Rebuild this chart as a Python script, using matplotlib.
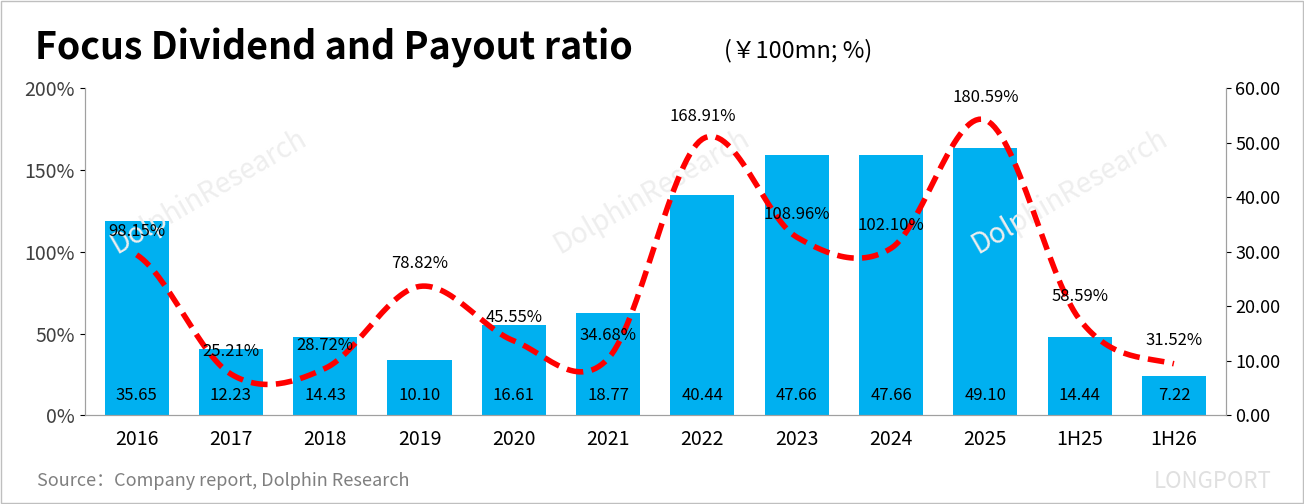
import numpy as np
import matplotlib
matplotlib.use("Agg")
import matplotlib.pyplot as plt

plt.rcParams['font.family'] = ['Microsoft YaHei', 'Noto Sans CJK SC', 'DejaVu Sans']

years = ["2016", "2017", "2018", "2019", "2020", "2021", "2022", "2023", "2024", "2025", "1H25", "1H26"]
dividend = [35.65, 12.23, 14.43, 10.10, 16.61, 18.77, 40.44, 47.66, 47.66, 49.10, 14.44, 7.22]
payout = [98.15, 25.21, 28.72, 78.82, 45.55, 34.68, 168.91, 108.96, 102.10, 180.59, 58.59, 31.52]

BAR_COLOR = "#00B0F0"
LINE_COLOR = "#FF0000"


def _smooth(y, n=30):
    # catmull-rom through the points (drawing only)
    p = np.array(y, dtype=float)
    p = np.concatenate([[p[0]], p, [p[-1]]])
    xs, ys = [], []
    for i in range(1, len(p) - 2):
        t = np.linspace(0, 1, n, endpoint=False)
        p0, p1, p2, p3 = p[i - 1], p[i], p[i + 1], p[i + 2]
        v = 0.5 * (2 * p1 + (-p0 + p2) * t + (2 * p0 - 5 * p1 + 4 * p2 - p3) * t ** 2
                   + (-p0 + 3 * p1 - 3 * p2 + p3) * t ** 3)
        xs.append(i - 1 + t)
        ys.append(v)
    xs.append([len(y) - 1])
    ys.append([y[-1]])
    return np.concatenate(xs), np.concatenate(ys)


fig = plt.figure(figsize=(13.04, 5.04), dpi=100)
ax = fig.add_axes([0.065, 0.176, 0.875, 0.649])
ax2 = ax.twinx()

x = np.arange(len(years))
ax2.bar(x, dividend, width=0.68, color=BAR_COLOR, zorder=1)
for xi, v in zip(x, dividend):
    ax2.text(xi, 3.7, f"{v:.2f}", ha="center", va="center", fontsize=12, color="black")
ax2.set_ylim(0, 60)
ax2.set_yticks(np.arange(0, 61, 10))
ax2.set_yticklabels([f"{v:.2f}" for v in np.arange(0, 61, 10)], fontsize=13)

ax.set_zorder(ax2.get_zorder() + 1)
ax.patch.set_visible(False)
sx, sy = _smooth(payout)
ax.plot(sx, sy, color=LINE_COLOR, lw=4, ls=(0, (3, 1.5)), zorder=3)
for xi, v in zip(x, payout):
    ax.text(xi, v + 14, f"{v:.2f}%", ha="center", va="center", fontsize=12, color="black")
ax.set_ylim(0, 200)
ax.set_xlim(-0.55, len(years) - 0.45)
ax.set_yticks(np.arange(0, 201, 50))
ax.set_yticklabels([f"{v}%" for v in range(0, 201, 50)], fontsize=14, color="#404040")
ax.set_xticks(x)
ax.set_xticklabels(years, fontsize=14)
ax.tick_params(axis="x", length=0, pad=10)

for a in (ax, ax2):
    a.spines["top"].set_visible(False)
    for s in ("left", "right", "bottom"):
        a.spines[s].set_color("#A0A0A0")

fig.text(0.027, 0.905, "Focus Dividend and Payout ratio", fontsize=27, fontweight="bold", va="center")
fig.text(0.555, 0.9, "(￥100mn; %)", fontsize=17, va="center")
fig.text(0.028, 0.045, "Source：Company report, Dolphin Research", fontsize=13, color="#7F7F7F", va="center")
fig.text(0.93, 0.045, "LONGPORT", fontsize=16, color="#E0E0E0", va="center", ha="center")
for wx, wy in [(0.16, 0.62), (0.5, 0.62), (0.82, 0.62)]:
    fig.text(wx, wy, "DolphinResearch", fontsize=20, color="#EEEEEE", rotation=30,
             ha="center", va="center", zorder=0)

fig.patches.append(plt.Rectangle((0.001, 0.001), 0.998, 0.998, transform=fig.transFigure,
                                 fill=False, edgecolor="#BFBFBF", lw=1))
fig.savefig("out.png", dpi=100)
